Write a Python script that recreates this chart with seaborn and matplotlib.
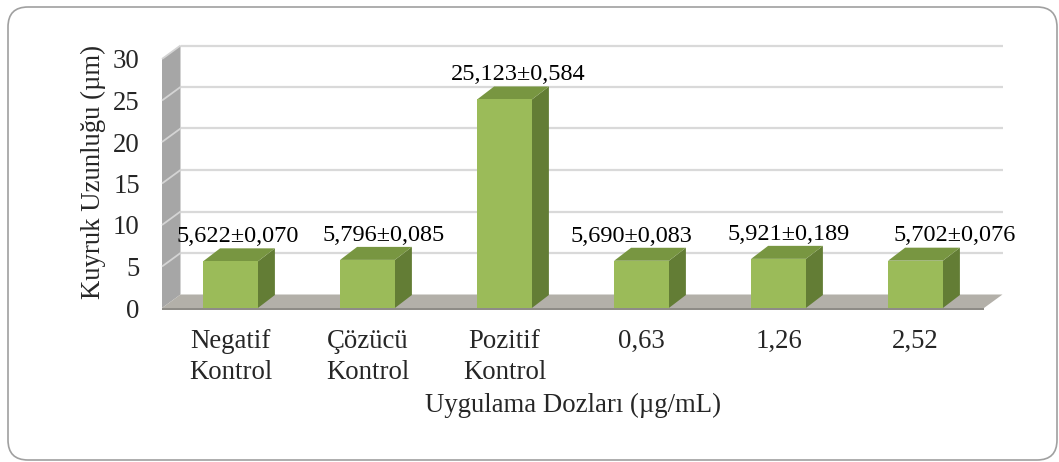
import matplotlib
matplotlib.use("Agg")
import matplotlib.pyplot as plt
import seaborn as sns
from matplotlib.patches import Polygon, FancyBboxPatch

# ---- data -------------------------------------------------------------
categories = ["Negatif\nKontrol", "Çözücü\nKontrol", "Pozitif\nKontrol",
              "0,63", "1,26", "2,52"]
means = [5.622, 5.796, 25.123, 5.690, 5.921, 5.702]
sems = [0.070, 0.085, 0.584, 0.083, 0.189, 0.076]
y_ticks = [0, 5, 10, 15, 20, 25, 30]
y_title = "Kuyruk Uzunluğu (µm)"
x_title = "Uygulama Dozları (µg/mL)"


def tr_num(v):
    return f"{v:.3f}".replace(".", ",")


value_labels = [f"{tr_num(m)}±{tr_num(s)}" for m, s in zip(means, sems)]

# ---- style ------------------------------------------------------------
sns.set_style("white")
plt.rcParams["font.family"] = ["Liberation Serif", "DejaVu Serif"]
FS_VAL = 17.5
FS_AX = 19.3

FRONT = "#9BBB59"
TOP = "#789641"
SIDE = "#637D35"
WALL = "#A6A6A6"
WALL_LINE = "#D4D4D4"
FLOOR = "#B3B0A9"
FLOOR_EDGE = "#8E8C87"
GRID = "#D9D9D9"

W, H = 1059, 462
fig = plt.figure(figsize=(W / 100, H / 100), dpi=100)
fig.patch.set_facecolor("white")

# rounded outer frame
r = 0.2
frame = FancyBboxPatch((0.08 + r, 0.02 + r), 10.49 - 2 * r, 4.53 - 2 * r,
                       boxstyle=f"round,pad={r}", transform=fig.dpi_scale_trans,
                       facecolor="none", edgecolor="#A0A0A0", linewidth=1.2,
                       zorder=-1)
fig.patches.append(frame)

ax = fig.add_axes([162 / W, (H - 308) / H, 822 / W, 249 / H])
ax.set_facecolor("none")

sns.barplot(x=categories, y=means, color=FRONT, saturation=1, width=0.4,
            errorbar=None, linewidth=0, ax=ax)
ax.set_xlim(-0.5, 5.5)
ax.set_ylim(0, 30)

# depth of the box (walls/floor) and of the bars, in data units
px_x = 1 / 137.0          # one pixel in category units
px_y = 30 / 249.0         # one pixel in value units
DX, DY = 18.5 * px_x, 13.5 * px_y
BDX, BDY = 17 * px_x, 13 * px_y

x_left, x_right = -0.5, 5.5

# left side wall
ax.add_patch(Polygon([(x_left, 0), (x_left, 30), (x_left + DX, 30 + DY),
                      (x_left + DX, DY)], closed=True, facecolor=WALL,
                     edgecolor="none", clip_on=False, zorder=1))
for t in y_ticks[1:]:
    ax.plot([x_left, x_left + DX], [t, t + DY], color=WALL_LINE, lw=1.3,
            clip_on=False, zorder=1.2, solid_capstyle="butt")
    ax.plot([x_left + DX, x_right + DX], [t + DY, t + DY], color=GRID,
            lw=1.6, clip_on=False, zorder=1.2, solid_capstyle="butt")

# floor
ax.add_patch(Polygon([(x_left, 0), (x_right, 0), (x_right + DX, DY),
                      (x_left + DX, DY)], closed=True, facecolor=FLOOR,
                     edgecolor="none", clip_on=False, zorder=1.5))
ax.add_patch(Polygon([(x_left, -2.2 * px_y), (x_right, -2.2 * px_y),
                      (x_right, 0), (x_left, 0)], closed=True,
                     facecolor=FLOOR_EDGE, edgecolor="none", clip_on=False,
                     zorder=1.6))

# 3-D bar faces built on the seaborn bars
label_shift_px = [7, 16, 14, -10, 10, 39]
for bar, text, shift in zip(ax.patches[:len(means)], value_labels,
                            label_shift_px):
    x0 = bar.get_x()
    x1 = x0 + bar.get_width()
    h = bar.get_height()
    bar.set_zorder(4)
    ax.add_patch(Polygon([(x1, 0), (x1 + BDX, BDY), (x1 + BDX, h + BDY),
                          (x1, h)], closed=True, facecolor=SIDE,
                         edgecolor="none", clip_on=False, zorder=3))
    ax.add_patch(Polygon([(x0, h), (x1, h), (x1 + BDX, h + BDY),
                          (x0 + BDX, h + BDY)], closed=True, facecolor=TOP,
                         edgecolor="none", clip_on=False, zorder=3))
    ax.annotate(text, xy=((x0 + x1) / 2, h + BDY),
                xytext=(shift * 0.72, 4.5), textcoords="offset points",
                ha="center", va="baseline", fontsize=FS_VAL, color="black",
                zorder=5)

# axes text
for s in ax.spines.values():
    s.set_visible(False)
ax.set_yticks(y_ticks)
ax.set_yticklabels([str(t) for t in y_ticks])
ax.tick_params(axis="y", length=0, pad=16, labelsize=FS_AX)
ax.tick_params(axis="x", length=0, pad=15, labelsize=FS_AX)
for lbl in ax.get_xticklabels():
    lbl.set_linespacing(1.35)

ax.set_ylabel(y_title, fontsize=FS_AX)
ax.yaxis.set_label_coords(-0.068, 0.546)
ax.set_xlabel(x_title, fontsize=FS_AX)
ax.xaxis.set_label_coords(0.5, -0.34)

fig.savefig("out.png", dpi=100)
